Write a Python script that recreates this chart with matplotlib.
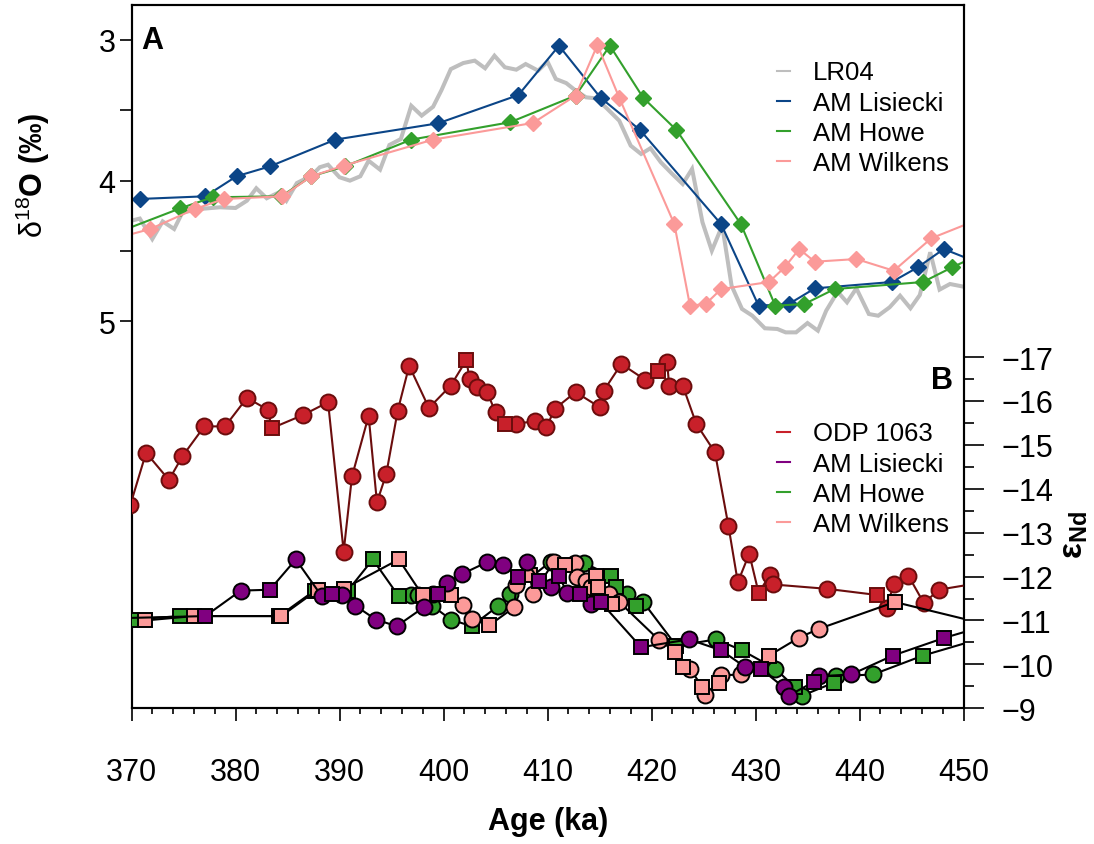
import matplotlib
matplotlib.use("Agg")
import matplotlib.pyplot as plt
from matplotlib.lines import Line2D
from matplotlib.ticker import MultipleLocator, FixedLocator

plt.rcParams['font.family'] = ['Liberation Sans', 'DejaVu Sans']
plt.rcParams['mathtext.fontset'] = 'custom'
plt.rcParams['mathtext.rm'] = 'Liberation Sans'
plt.rcParams['mathtext.bf'] = 'Liberation Sans:bold'
plt.rcParams['mathtext.it'] = 'Liberation Sans:italic'

# ---------------- Panel A: benthic d18O ----------------
lr04_age = [370.0, 370.8, 372.0, 373.0, 374.1, 374.9, 376.9, 378.5, 380.0, 381.1,
            382.0, 383.0, 384.3, 384.9, 385.9, 387.3, 388.1, 388.9, 390.0, 391.0,
            392.0, 392.8, 393.9, 394.8, 395.9, 396.9, 397.9, 399.0, 399.8, 400.7,
            401.9, 403.0, 404.0, 404.9, 405.9, 407.0, 407.9, 409.1, 410.0, 410.8,
            411.8, 412.6, 413.7, 414.6, 415.6, 416.9, 418.0, 419.0, 419.9, 420.9,
            422.0, 423.0, 423.9, 424.9, 425.8, 426.8, 427.7, 428.7, 429.7, 430.9,
            432.1, 432.9, 433.9, 435.0, 436.0, 436.8, 437.9, 438.8, 439.7, 440.9,
            441.8, 442.9, 443.9, 444.9, 445.8, 446.8, 447.7, 448.7, 449.8]
lr04_d18o = [4.285, 4.27, 4.415, 4.29, 4.344, 4.226, 4.20, 4.19, 4.195, 4.143,
             4.055, 4.126, 4.08, 4.143, 4.018, 3.966, 3.906, 3.888, 3.977, 4.001,
             3.97, 3.86, 3.923, 3.748, 3.706, 3.47, 3.54, 3.477, 3.36, 3.21,
             3.167, 3.15, 3.204, 3.115, 3.197, 3.214, 3.174, 3.221, 3.157, 3.28,
             3.309, 3.356, 3.41, 3.417, 3.481, 3.576, 3.753, 3.812, 3.771, 3.871,
             3.954, 4.025, 3.918, 4.296, 4.498, 4.32, 4.746, 4.911, 4.959, 5.048,
             5.053, 5.077, 5.077, 5.011, 5.065, 4.923, 4.789, 4.864, 4.765, 4.947,
             4.959, 4.899, 4.817, 4.906, 4.812, 4.509, 4.774, 4.734, 4.75]

lis_age = [368.5, 370.8, 377.1, 380.1, 383.3, 389.6, 399.5, 407.2, 411.1, 415.1,
           418.9, 426.7, 430.3, 433.2, 435.7, 443.1, 445.6, 448.1, 452.0]
lis_d18o = [4.14, 4.131, 4.112, 3.97, 3.90, 3.71, 3.594, 3.394, 3.044, 3.413,
            3.642, 4.31, 4.888, 4.876, 4.765, 4.72, 4.616, 4.486, 4.60]

howe_age = [368.0, 374.7, 377.8, 384.4, 387.3, 390.5, 396.9, 406.4, 412.7, 416.0,
            419.2, 422.4, 428.6, 431.9, 434.7, 437.6, 446.1, 448.9, 452.0]
howe_d18o = [4.387, 4.197, 4.119, 4.112, 3.97, 3.90, 3.71, 3.587, 3.398, 3.044,
             3.413, 3.642, 4.31, 4.888, 4.876, 4.77, 4.72, 4.616, 4.51]

wil_age = [368.0, 371.8, 376.1, 378.9, 384.5, 387.3, 390.4, 399.0, 408.6, 412.7,
           414.8, 416.9, 422.2, 423.7, 425.2, 426.7, 431.3, 432.8, 434.2, 435.7,
           439.7, 443.3, 446.9, 453.0]
wil_d18o = [4.42, 4.344, 4.202, 4.131, 4.112, 3.97, 3.895, 3.71, 3.592, 3.398,
            3.039, 3.413, 4.31, 4.888, 4.876, 4.77, 4.72, 4.616, 4.486, 4.576,
            4.557, 4.64, 4.41, 4.23]

# ---------------- Panel B: eNd ----------------
odp_age = [369.9, 371.4, 373.6, 374.9, 377.0, 379.0, 381.1, 383.1, 383.5, 386.5,
           388.9, 390.4, 391.2, 392.8, 393.6, 394.5, 395.6, 396.7, 398.6, 400.7,
           402.2, 402.5, 403.2, 404.2, 405.0, 405.9, 407.0, 408.8, 409.9, 410.7,
           412.7, 415.0, 415.4, 417.1, 419.4, 420.6, 421.5, 421.7, 423.0, 424.3,
           426.1, 427.4, 428.3, 429.4, 430.3, 431.4, 431.7, 436.9, 441.7, 442.6,
           443.3, 444.7, 446.2, 447.6, 449.9]
odp_end = [-13.64, -14.82, -14.20, -14.74, -15.42, -15.42, -16.07, -15.80, -15.38, -15.68,
           -15.97, -12.57, -14.28, -15.66, -13.69, -14.34, -15.78, -16.80, -15.84, -16.35,
           -16.93, -16.50, -16.32, -16.20, -15.74, -15.48, -15.48, -15.54, -15.40, -15.82,
           -16.20, -15.86, -16.23, -16.84, -16.48, -16.67, -16.88, -16.35, -16.35, -15.48,
           -14.83, -13.15, -11.87, -12.52, -11.63, -12.04, -11.82, -11.72, -11.58, -11.29,
           -11.83, -12.02, -11.39, -11.70, -11.79]
odp_kind = "cccccccc" "sccccccccc" "ccsccccscc" "cccccccscc" "ccccccsccc" "s" "ccccc"

am_lis_age = [368.5, 377.1, 380.5, 383.3, 385.8, 388.3, 389.3, 390.2, 391.5, 393.5,
              395.5, 398.1, 399.5, 400.3, 401.8, 404.2, 405.7, 407.2, 408.0, 409.2,
              410.3, 411.1, 411.9, 413.1, 414.2, 415.1, 419.0, 423.6, 426.7, 429.0,
              430.5, 432.7, 433.2, 435.6, 436.1, 439.2, 443.2, 448.1, 453.0]
am_lis_end = [-11.05, -11.10, -11.68, -11.70, -12.39, -11.55, -11.60, -11.58, -11.34, -11.02,
              -10.87, -11.30, -11.60, -11.85, -12.06, -12.33, -12.27, -12.00, -12.33, -11.91,
              -11.76, -12.01, -11.63, -11.61, -11.38, -11.42, -10.39, -10.57, -10.32, -9.94,
              -9.90, -9.48, -9.29, -9.60, -9.73, -9.77, -10.20, -10.60, -10.94]
am_lis_kind = "sscscc" "scccccs" "cccc" "scscsc" "scs" "scsc" "sccsccsss"

am_howe_age = [370.0, 374.7, 384.2, 387.6, 390.8, 393.2, 395.7, 396.9, 397.5, 398.9,
               400.7, 402.7, 405.2, 406.4, 410.3, 413.5, 416.1, 416.6, 417.6, 418.5,
               419.2, 422.4, 426.2, 428.7, 431.9, 433.8, 434.5, 437.5, 437.7, 441.3,
               446.1, 453.0]
am_howe_end = [-11.02, -11.10, -11.10, -11.68, -11.68, -12.39, -11.55, -11.58, -11.58, -11.34,
               -11.02, -10.87, -11.32, -11.61, -12.34, -12.31, -12.02, -11.76, -11.61, -11.34,
               -11.42, -10.42, -10.57, -10.32, -9.90, -9.48, -9.29, -9.58, -9.73, -9.77,
               -10.20, -10.68]
am_howe_kind = "sssssss" "cccc" "s" "cccc" "ss" "cs" "cs" "cs" "cs" "c" "scc" "ss"

am_wil_age = [371.3, 376.0, 384.4, 387.9, 390.4, 395.7, 398.0, 399.0, 400.7, 401.9,
              402.7, 404.4, 406.8, 407.0, 408.3, 408.6, 410.6, 411.7, 412.6, 412.8,
              413.7, 414.2, 414.7, 414.9, 415.9, 416.2, 416.9, 420.7, 422.3, 423.0,
              423.7, 424.9, 425.1, 426.5, 426.7, 428.6, 431.3, 434.2, 436.1, 443.4,
              455.0]
am_wil_end = [-11.00, -11.10, -11.10, -11.70, -11.72, -12.39, -11.57, -11.60, -11.58, -11.36,
              -11.04, -10.89, -11.30, -11.80, -12.04, -11.61, -12.33, -12.27, -12.31, -11.98,
              -11.89, -11.76, -12.01, -11.76, -11.61, -11.38, -11.42, -10.56, -10.29, -9.94,
              -9.90, -9.48, -9.31, -9.58, -9.75, -9.77, -10.20, -10.61, -10.81, -11.42,
              -10.75]
am_wil_kind = "sssssss" "cs" "ccs" "ccsc" "cscc" "cc" "ss" "csc" "css" "cscs" "cc" "scc" "ss"

# ---------------- styling ----------------
C_LR04 = "#BEBEBE"
C_LIS = "#0B4587"
C_HOWE = "#33A02C"
C_WIL = "#FB9A99"
C_ODP = "#C8202A"
C_ODP_DARK = "#6B0D0D"
C_PURPLE = "#800080"

FS_TICK = 22
FS_LEG = 18.5

fig = plt.figure(figsize=(10.94, 8.45), dpi=100)
W, H = 1094.0, 845.0
x0, x1, ytop, ybot = 131.5, 963.5, 6.0, 709.3
ax = fig.add_axes([x0 / W, 1 - ybot / H, (x1 - x0) / W, (ybot - ytop) / H])
axb = ax.twinx()

ax.set_xlim(370, 450)
ax.set_ylim(7.7433, 2.7553)
axb.set_ylim(-9.0, -25.016)

# Panel A curves
ax.plot(lr04_age, lr04_d18o, color=C_LR04, lw=2.9, zorder=2, solid_joinstyle='miter')
for a, v, c in [(lis_age, lis_d18o, C_LIS), (howe_age, howe_d18o, C_HOWE),
                (wil_age, wil_d18o, C_WIL)]:
    ax.plot(a, v, color=c, lw=1.5, marker='D', ms=8.5, mec=c, mfc=c, zorder=3)

# Panel B curves
def draw_end(axis, ages, vals, kinds, fill, edge, line_color, zo):
    axis.plot(ages, vals, color=line_color, lw=1.5, zorder=zo)
    for shape, mk, size in (("c", "o", 11.5), ("s", "s", 10.5)):
        xs = [a for a, k in zip(ages, kinds) if k == shape]
        ys = [v for v, k in zip(vals, kinds) if k == shape]
        axis.plot(xs, ys, ls='none', marker=mk, ms=size, mfc=fill, mec=edge,
                  mew=1.4, zorder=zo)

draw_end(axb, odp_age, odp_end, odp_kind, C_ODP, C_ODP_DARK, C_ODP_DARK, 3)
draw_end(axb, am_howe_age, am_howe_end, am_howe_kind, C_HOWE, "black", "black", 4)
draw_end(axb, am_wil_age, am_wil_end, am_wil_kind, C_WIL, "black", "black", 5)
draw_end(axb, am_lis_age, am_lis_end, am_lis_kind, C_PURPLE, "black", "black", 6)

# Axes, ticks
for s in ax.spines.values():
    s.set_linewidth(1.5)
for s in axb.spines.values():
    s.set_linewidth(1.5)

ax.set_xticks(range(370, 451, 10))
ax.xaxis.set_minor_locator(MultipleLocator(2))
ax.tick_params(axis='x', which='major', direction='out', length=9, width=1.2,
               labelsize=FS_TICK, pad=26)
ax.tick_params(axis='x', which='minor', direction='out', length=4.5, width=1.2)

ax.set_yticks([3, 3.5, 4, 4.5, 5])
ax.set_yticklabels(['3', '', '4', '', '5'])
ax.tick_params(axis='y', which='major', direction='out', length=8.5, width=1.2,
               labelsize=FS_TICK, pad=3)

axb.set_yticks(list(range(-17, -8)))
axb.yaxis.set_minor_locator(FixedLocator([-16.5 + i for i in range(8)]))
axb.tick_params(axis='y', which='major', direction='out', length=14.5, width=1.2,
                labelsize=FS_TICK, pad=13)
axb.tick_params(axis='y', which='minor', direction='out', length=7, width=1.2)

# Legends
leg_kw = dict(loc='upper left', frameon=False, fontsize=FS_LEG, handlelength=0.5,
              handletextpad=0.9, labelspacing=0.245, borderpad=0, borderaxespad=0)
hA = [Line2D([], [], color=C_LR04, lw=1.5), Line2D([], [], color=C_LIS, lw=1.5),
      Line2D([], [], color=C_HOWE, lw=1.5), Line2D([], [], color=C_WIL, lw=1.5)]
ax.legend(hA, ["LR04", "AM Lisiecki", "AM Howe", "AM Wilkens"],
          bbox_to_anchor=((777 - x0) / (x1 - x0), (ybot - 61.5) / (ybot - ytop)), **leg_kw)
hB = [Line2D([], [], color=C_ODP, lw=1.5), Line2D([], [], color=C_PURPLE, lw=1.5),
      Line2D([], [], color=C_HOWE, lw=1.5), Line2D([], [], color=C_WIL, lw=1.5)]
axb.legend(hB, ["ODP 1063", "AM Lisiecki", "AM Howe", "AM Wilkens"],
           bbox_to_anchor=((777 - x0) / (x1 - x0), (ybot - 422.5) / (ybot - ytop)), **leg_kw)

# Panel letters
ax.text(0.0123, 0.950, "A", transform=ax.transAxes, fontsize=FS_TICK,
        fontweight='bold', ha='left', va='center')
axb.text(0.9874, 0.4668, "B", transform=axb.transAxes, fontsize=FS_TICK,
         fontweight='bold', ha='right', va='center')

# Axis titles
fig.text(548 / W, 1 - 822 / H, "Age (ka)", fontsize=FS_TICK, fontweight='bold',
         ha='center', va='center')
fig.text(33 / W, 1 - 175 / H, r"$\mathrm{δ}^{18}\mathbf{O\ (‰)}$", fontsize=FS_TICK,
         rotation=90, ha='center', va='center')
fig.text(1075 / W, 1 - 535 / H, r"$\mathbf{ε}_{\mathbf{Nd}}$", fontsize=FS_TICK + 2,
         rotation=90, ha='center', va='center')

fig.savefig("out.png", dpi=100)
